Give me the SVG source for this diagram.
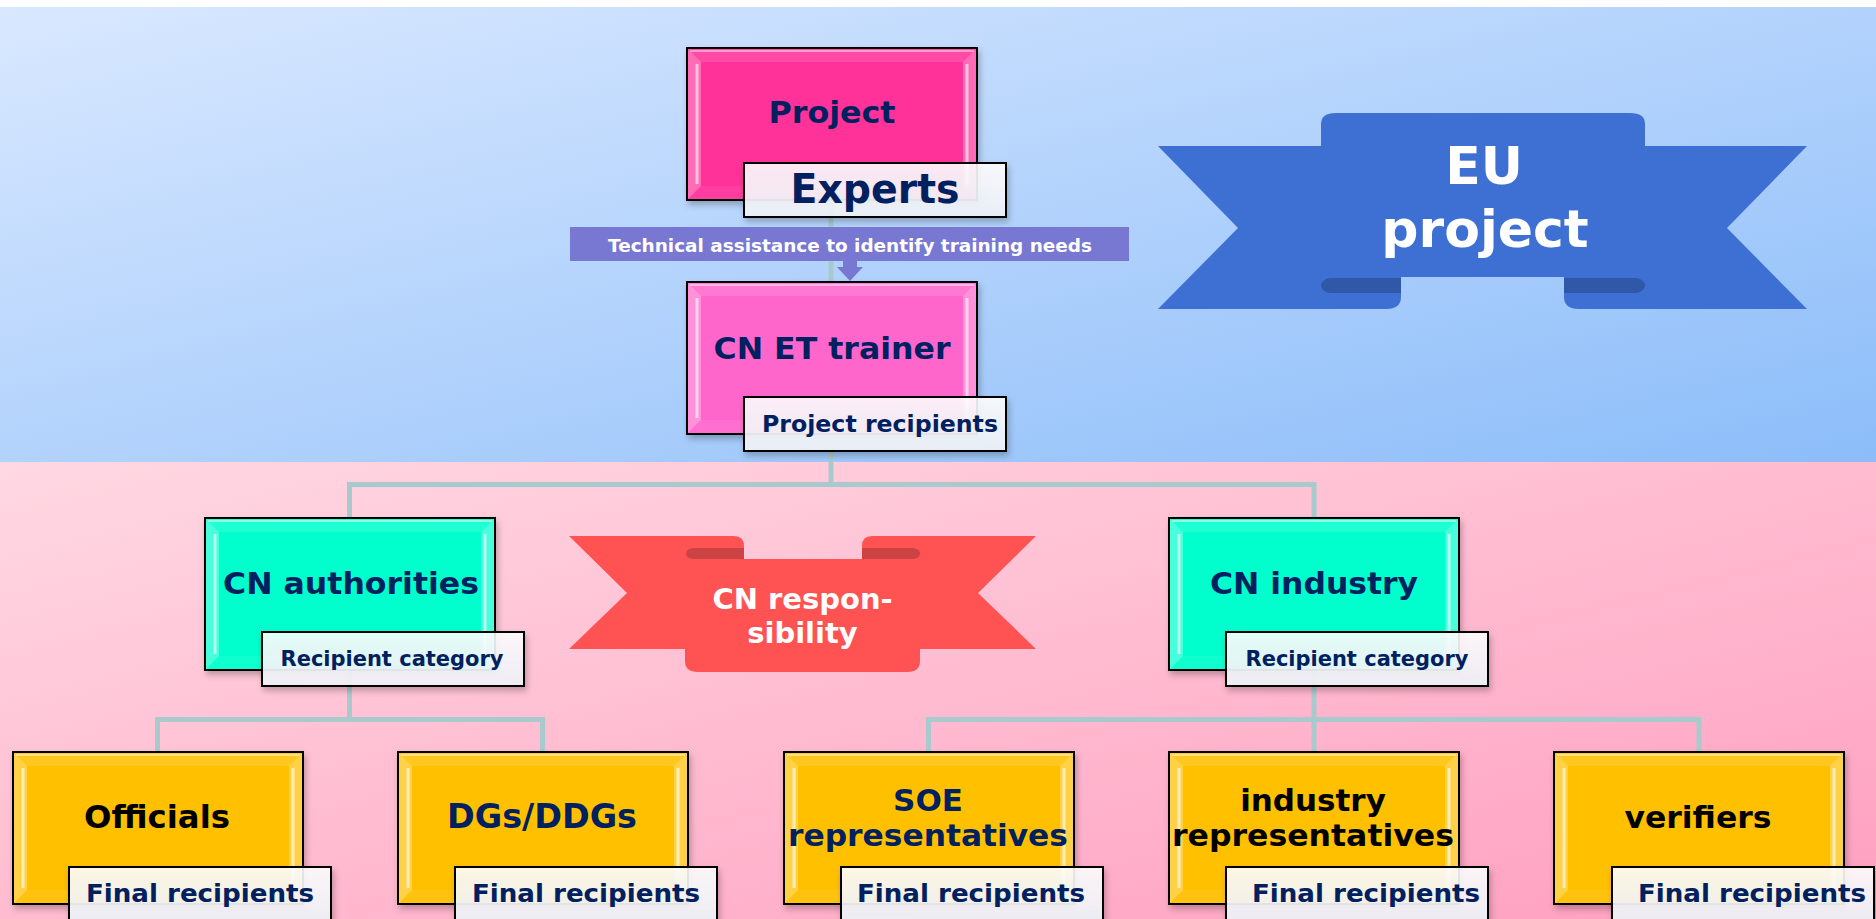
<svg xmlns="http://www.w3.org/2000/svg" xmlns:xlink="http://www.w3.org/1999/xlink" width="1876" height="919" viewBox="0 0 1876 919">
<defs>
<style>
.box{stroke:#000;stroke-width:2}
.lbl{fill:url(#lblGrad);stroke:#000;stroke-width:2}
.t{font-family:"DejaVu Sans","Liberation Sans",sans-serif;font-weight:bold;text-anchor:middle}
.navy{fill:#002060}
.blk{fill:#000}
.wht{fill:#fff}
.conn{fill:none;stroke:#A9CACC;stroke-width:5}
.blue{fill:#3E70D4}
.blueD{fill:#3058A8}
.red{fill:#FF5252}
.redD{fill:#CC4343}
</style>
<linearGradient id="bgTop" x1="0" y1="0" x2="1" y2="1">
<stop offset="0" stop-color="#D9E8FF"/>
<stop offset="1" stop-color="#8CBDF9"/>
</linearGradient>
<linearGradient id="bgBot" x1="0" y1="0" x2="1" y2="1">
<stop offset="0" stop-color="#FFD8E2"/>
<stop offset="1" stop-color="#FF9FC0"/>
</linearGradient>
<linearGradient id="lblGrad" x1="0" y1="0" x2="0" y2="1">
<stop offset="0" stop-color="#FFFFFF" stop-opacity="0.88"/>
<stop offset="1" stop-color="#EEF1F7" stop-opacity="0.93"/>
</linearGradient>
<filter id="sh" x="-10%" y="-10%" width="125%" height="130%">
<feDropShadow dx="2" dy="4" stdDeviation="3" flood-color="#000" flood-opacity="0.25"/>
</filter>
<g id="bev">
<polygon points="1,1 14,14 14,138 1,151" fill="#fff" fill-opacity="0.28"/>
<line x1="10" y1="16" x2="10" y2="136" stroke="#fff" stroke-opacity="0.6" stroke-width="3"/>
<polygon points="289,1 276,14 276,138 289,151" fill="#fff" fill-opacity="0.28"/>
<line x1="280" y1="16" x2="280" y2="136" stroke="#fff" stroke-opacity="0.6" stroke-width="3"/>
<polygon points="1,1 289,1 276,14 14,14" fill="#fff" fill-opacity="0.12"/>
<line x1="3" y1="3" x2="287" y2="3" stroke="#fff" stroke-opacity="0.45" stroke-width="2"/>
<polygon points="1,151 289,151 276,138 14,138" fill="#fff" fill-opacity="0.06"/>
</g>
</defs>

<rect x="0" y="0" width="1876" height="919" fill="#fff"/>
<rect x="0" y="7" width="1876" height="455" fill="url(#bgTop)"/>
<rect x="0" y="462" width="1876" height="457" fill="url(#bgBot)"/>

<g id="connectors">
<path class="conn" d="M831,200 V282"/>
<path class="conn" d="M831,433 V484.5 H349.5 V518 M831,484.5 H1314 V518"/>
<path class="conn" d="M349.5,670 V719.5 H157.5 V752 M349.5,719.5 H542.5 V752"/>
<path class="conn" d="M1314,670 V752 M1314,719.5 H928.5 V752 M1314,719.5 H1699 V752"/>
</g>

<g id="eu-ribbon">
<path class="blue" d="M1158,146 H1401 V297 Q1401,309 1386,309 H1158 L1238,228 Z"/>
<path class="blueD" d="M1401,278 H1331 A10,7.5 0 0 0 1331,293 H1401 Z"/>
<path class="blue" d="M1807,146 H1564 V297 Q1564,309 1579,309 H1807 L1727,228 Z"/>
<path class="blueD" d="M1564,278 H1635 A10,7.5 0 0 1 1635,293 H1564 Z"/>
<path class="blue" d="M1321,277 V124 Q1321,113 1336,113 H1630 Q1645,113 1645,124 V277 Z"/>
<text class="t wht" x="1484" y="184" font-size="52">EU</text>
<text class="t wht" x="1485" y="247" font-size="52">project</text>
</g>

<g id="cn-ribbon">
<path class="red" d="M569,536 H734 Q744,536 744,546 V649 H569 L627,593 Z"/>
<path class="redD" d="M744,548 H694 A8,5.5 0 0 0 694,559 H744 Z"/>
<path class="red" d="M1036,536 H872 Q862,536 862,546 V649 H1036 L978,593 Z"/>
<path class="redD" d="M862,548 H912 A8,5.5 0 0 1 912,559 H862 Z"/>
<path class="red" d="M685,559 H920 V661 Q920,672 907,672 H698 Q685,672 685,661 Z"/>
<text class="t wht" x="802.5" y="609" font-size="29">CN respon-</text>
<text class="t wht" x="802.5" y="643" font-size="29">sibility</text>
</g>

<g id="project">
<rect class="box" x="687" y="48" width="290" height="152" fill="#FF3399" filter="url(#sh)"/>
<use xlink:href="#bev" x="687" y="48"/>
<text class="t navy" x="832" y="123" font-size="31" textLength="127" lengthAdjust="spacingAndGlyphs">Project</text>
<rect class="lbl" x="744" y="163" width="262" height="54" filter="url(#sh)"/>
<text class="t navy" x="875" y="203" font-size="40" textLength="169" lengthAdjust="spacingAndGlyphs">Experts</text>
</g>

<g id="technical-assistance">
<rect x="570" y="227" width="559" height="34" fill="#7878D2"/>
<path d="M843,260 H857 V267 H863 L850,281 L837,267 H843 Z" fill="#7878D2"/>
<text class="t wht" x="850" y="252" font-size="17" textLength="484" lengthAdjust="spacingAndGlyphs">Technical assistance to identify training needs</text>
</g>

<g id="cn-et-trainer">
<rect class="box" x="687" y="282" width="290" height="152" fill="#FF66CC" filter="url(#sh)"/>
<use xlink:href="#bev" x="687" y="282"/>
<text class="t navy" x="832" y="359" font-size="30" textLength="237" lengthAdjust="spacingAndGlyphs">CN ET trainer</text>
<rect class="lbl" x="744" y="397" width="262" height="54" filter="url(#sh)"/>
<text class="t navy" x="880" y="432" font-size="23" textLength="236" lengthAdjust="spacingAndGlyphs">Project recipients</text>
</g>

<g id="cn-authorities">
<rect class="box" x="205" y="518" width="290" height="152" fill="#00FFCC" filter="url(#sh)"/>
<use xlink:href="#bev" x="205" y="518"/>
<text class="t navy" x="351" y="594" font-size="31" textLength="256" lengthAdjust="spacingAndGlyphs">CN authorities</text>
<rect class="lbl" x="262" y="632" width="262" height="54" filter="url(#sh)"/>
<text class="t navy" x="392" y="666" font-size="21" textLength="223" lengthAdjust="spacingAndGlyphs">Recipient category</text>
</g>

<g id="cn-industry">
<rect class="box" x="1169" y="518" width="290" height="152" fill="#00FFCC" filter="url(#sh)"/>
<use xlink:href="#bev" x="1169" y="518"/>
<text class="t navy" x="1314" y="594" font-size="31" textLength="208" lengthAdjust="spacingAndGlyphs">CN industry</text>
<rect class="lbl" x="1226" y="632" width="262" height="54" filter="url(#sh)"/>
<text class="t navy" x="1357" y="666" font-size="21" textLength="223" lengthAdjust="spacingAndGlyphs">Recipient category</text>
</g>

<g id="officials">
<rect class="box" x="13" y="752" width="290" height="152" fill="#FFC000" filter="url(#sh)"/>
<use xlink:href="#bev" x="13" y="752"/>
<text class="t blk" x="157" y="828" font-size="32" textLength="146" lengthAdjust="spacingAndGlyphs">Officials</text>
<rect class="lbl" x="69" y="867" width="262" height="54" filter="url(#sh)"/>
<text class="t navy" x="200" y="902" font-size="24" textLength="228" lengthAdjust="spacingAndGlyphs">Final recipients</text>
</g>

<g id="dgs-ddgs">
<rect class="box" x="398" y="752" width="290" height="152" fill="#FFC000" filter="url(#sh)"/>
<use xlink:href="#bev" x="398" y="752"/>
<text class="t navy" x="542" y="828" font-size="33" textLength="190" lengthAdjust="spacingAndGlyphs">DGs/DDGs</text>
<rect class="lbl" x="455" y="867" width="262" height="54" filter="url(#sh)"/>
<text class="t navy" x="586" y="902" font-size="24" textLength="228" lengthAdjust="spacingAndGlyphs">Final recipients</text>
</g>

<g id="soe-representatives">
<rect class="box" x="784" y="752" width="290" height="152" fill="#FFC000" filter="url(#sh)"/>
<use xlink:href="#bev" x="784" y="752"/>
<text class="t navy" x="928" y="811" font-size="31">SOE</text>
<text class="t navy" x="928" y="846" font-size="31" textLength="280" lengthAdjust="spacingAndGlyphs">representatives</text>
<rect class="lbl" x="841" y="867" width="262" height="54" filter="url(#sh)"/>
<text class="t navy" x="971" y="902" font-size="24" textLength="228" lengthAdjust="spacingAndGlyphs">Final recipients</text>
</g>

<g id="industry-representatives">
<rect class="box" x="1169" y="752" width="290" height="152" fill="#FFC000" filter="url(#sh)"/>
<use xlink:href="#bev" x="1169" y="752"/>
<text class="t blk" x="1313" y="811" font-size="31">industry</text>
<text class="t blk" x="1313" y="846" font-size="31" textLength="282" lengthAdjust="spacingAndGlyphs">representatives</text>
<rect class="lbl" x="1226" y="867" width="262" height="54" filter="url(#sh)"/>
<text class="t navy" x="1366" y="902" font-size="24" textLength="228" lengthAdjust="spacingAndGlyphs">Final recipients</text>
</g>

<g id="verifiers">
<rect class="box" x="1554" y="752" width="290" height="152" fill="#FFC000" filter="url(#sh)"/>
<use xlink:href="#bev" x="1554" y="752"/>
<text class="t blk" x="1698" y="828" font-size="31" textLength="147" lengthAdjust="spacingAndGlyphs">verifiers</text>
<rect class="lbl" x="1612" y="867" width="262" height="54" filter="url(#sh)"/>
<text class="t navy" x="1752" y="902" font-size="24" textLength="228" lengthAdjust="spacingAndGlyphs">Final recipients</text>
</g>
</svg>
